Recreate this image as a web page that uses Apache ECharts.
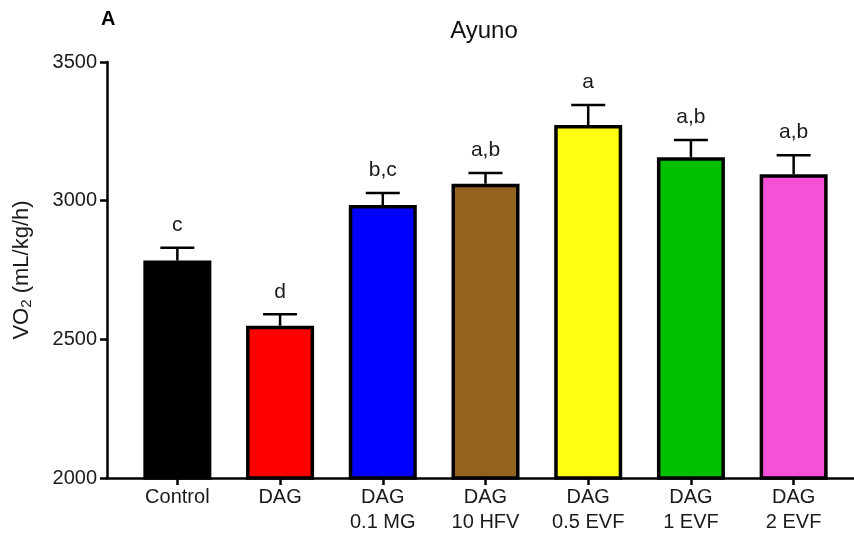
<!DOCTYPE html>
<html>
<head>
<meta charset="utf-8">
<script src="https://cdn.jsdelivr.net/npm/echarts@6/dist/echarts.min.js"></script>
<style>
  html, body { margin: 0; padding: 0; background: #fff; }
  #chart { width: 854px; height: 540px; }
</style>
</head>
<body>
<div id="chart"></div>
<script>
// Oxygen consumption while fasting, per treatment group
const categories = ['Control', 'DAG', 'DAG\n0.1 MG', 'DAG\n10 HFV', 'DAG\n0.5 EVF', 'DAG\n1 EVF', 'DAG\n2 EVF'];
const means = [2784, 2549, 2984, 3061, 3273, 3157, 3095];
const sems = [46, 41, 44, 39, 72, 62, 69];
const letters = ['c', 'd', 'b,c', 'a,b', 'a', 'a,b', 'a,b'];
const yTicks = [2000, 2500, 3000, 3500];

const barColors = ['#000000', '#ff0000', '#0000ff', '#93621f', '#ffff14', '#00bf00', '#f550d7'];
const FONT = '"Liberation Sans", Arial, sans-serif';

const chart = echarts.init(document.getElementById('chart'), null, { renderer: 'canvas' });

chart.setOption({
  animation: false,
  backgroundColor: '#ffffff',
  title: [
    {
      text: 'A', left: 101, top: 9, padding: 0,
      textStyle: { fontFamily: FONT, fontSize: 20, fontWeight: 'bold', color: '#000' }
    },
    {
      text: 'Ayuno', left: 484, top: 19, padding: 0, textAlign: 'center',
      textStyle: { fontFamily: FONT, fontSize: 24, fontWeight: 'normal', color: '#111' }
    }
  ],
  grid: [
    { left: 126, right: 9, top: 62, bottom: 62 },
    { left: 107, right: 0, top: 62, bottom: 62 }
  ],
  xAxis: [
    {
      type: 'category', gridIndex: 0, data: categories,
      axisLine: { show: false },
      axisTick: { show: true, alignWithLabel: true, length: 7, lineStyle: { color: '#000', width: 2.5 } },
      axisLabel: { fontFamily: FONT, fontSize: 20, color: '#1a1a1a', lineHeight: 25, margin: 7, interval: 0 }
    },
    {
      type: 'value', gridIndex: 1, min: 0, max: 1,
      axisLine: { show: true, lineStyle: { color: '#000', width: 2.5 } },
      axisTick: { show: false }, axisLabel: { show: false }, splitLine: { show: false }
    }
  ],
  yAxis: [
    {
      type: 'value', gridIndex: 0, min: yTicks[0], max: yTicks[yTicks.length - 1], interval: 500,
      offset: 19,
      name: 'VO{sub|2} (mL/kg/h)', nameLocation: 'middle', nameGap: 73, nameRotate: 90,
      nameTextStyle: {
        fontFamily: FONT, fontSize: 22, color: '#1a1a1a',
        rich: { sub: { fontFamily: FONT, fontSize: 15, verticalAlign: 'bottom', padding: [9, 0, 0, 0], color: '#1a1a1a' } }
      },
      axisLine: { show: true, lineStyle: { color: '#000', width: 2.5 } },
      axisTick: { show: true, length: 7, lineStyle: { color: '#000', width: 2.5 } },
      axisLabel: {
        fontFamily: FONT, fontSize: 20, color: '#1a1a1a', margin: 10,
        formatter: function (v) { return String(v); }
      },
      splitLine: { show: false }
    },
    {
      type: 'value', gridIndex: 1, show: false, min: 0, max: 1
    }
  ],
  series: [
    {
      type: 'bar', xAxisIndex: 0, yAxisIndex: 0,
      barWidth: 68,
      data: means.map((v, i) => ({
        value: v,
        itemStyle: { color: barColors[i], borderColor: '#000', borderWidth: 3.5 }
      }))
    },
    {
      // SEM whiskers (upper half) with significance letters above the cap
      type: 'custom', xAxisIndex: 0, yAxisIndex: 0,
      data: means.map((v, i) => [i, v, v + sems[i]]),
      renderItem: function (params, api) {
        const i = api.value(0);
        const base = api.coord([i, api.value(1)]);
        const top = api.coord([i, api.value(2)]);
        const half = 17;
        const style = { stroke: '#000', lineWidth: 2.5, fill: null };
        return {
          type: 'group',
          children: [
            { type: 'line', shape: { x1: base[0], y1: base[1], x2: top[0], y2: top[1] }, style: style },
            { type: 'line', shape: { x1: top[0] - half, y1: top[1], x2: top[0] + half, y2: top[1] }, style: style },
            {
              type: 'text',
              x: top[0], y: top[1] - 12,
              style: {
                text: letters[params.dataIndex],
                fontFamily: FONT, fontSize: 21, fill: '#1a1a1a',
                align: 'center', verticalAlign: 'bottom'
              }
            }
          ]
        };
      },
      z: 5
    }
  ]
});
</script>
</body>
</html>
